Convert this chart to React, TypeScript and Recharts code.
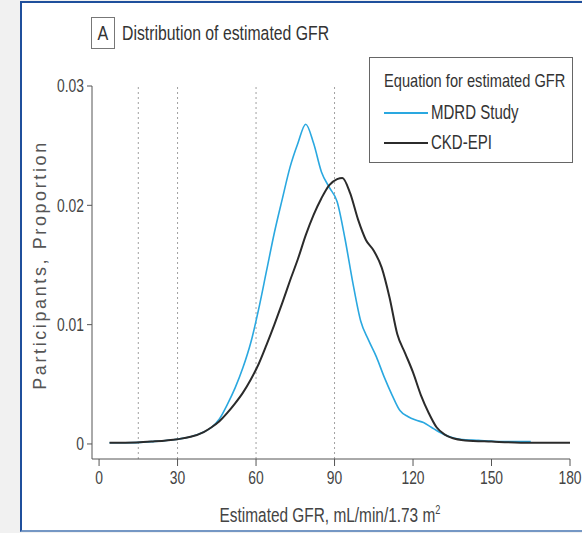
import React from "react";
import { LineChart, Line, XAxis, YAxis, ReferenceLine } from "recharts";

const mdrdX = [4, 10, 20, 30, 35, 40, 43, 46, 49, 52, 55, 58, 61, 64, 67, 70, 73, 76, 79, 82, 85, 88, 91, 94, 97, 100, 103, 106, 109, 112, 115, 118, 121, 124, 127, 130, 134, 138, 145, 155, 165];
const mdrdY = [0.0001, 0.0001, 0.0002, 0.0004, 0.0006, 0.001, 0.0014, 0.0021, 0.0033, 0.0047, 0.0064, 0.0085, 0.0113, 0.0145, 0.0177, 0.0205, 0.0232, 0.0252, 0.0268, 0.0252, 0.0228, 0.0215, 0.0203, 0.0172, 0.0135, 0.0103, 0.0087, 0.0073, 0.0056, 0.0041, 0.0028, 0.0023, 0.002, 0.0018, 0.0014, 0.001, 0.0006, 0.0004, 0.0003, 0.0002, 0.0002];

const ckdX = [4, 10, 20, 30, 35, 40, 43, 46, 49, 52, 55, 58, 61, 64, 67, 70, 73, 76, 79, 82, 85, 88, 91, 93, 96, 99, 102, 105, 108, 111, 114, 117, 120, 123, 126, 129, 132, 135, 140, 150, 165, 180];
const ckdY = [0.0001, 0.0001, 0.0002, 0.0004, 0.0006, 0.001, 0.0014, 0.0019, 0.0026, 0.0034, 0.0043, 0.0054, 0.0067, 0.0083, 0.01, 0.0118, 0.0137, 0.0155, 0.0175, 0.0192, 0.0206, 0.0217, 0.0222, 0.0223, 0.021, 0.0188, 0.0171, 0.0162, 0.0148, 0.0123, 0.0092, 0.0076, 0.006, 0.0041, 0.0026, 0.0014, 0.0008, 0.0005, 0.0003, 0.0002, 0.0001, 0.0001];

const xTicks = [0, 30, 60, 90, 120, 150, 180];
const yTicks = [0, 0.01, 0.02, 0.03];
const refLines = [15, 30, 60, 90];

const seriesNames = ["MDRD Study", "CKD-EPI"];
const seriesColors = ["#2aa8e0", "#2b2b2b"];

const mdrdData = mdrdX.map((x, i) => ({ x, y: mdrdY[i] }));
const ckdData = ckdX.map((x, i) => ({ x, y: ckdY[i] }));

const FONT = "'Liberation Sans', Arial, sans-serif";
const NARROW = 0.77;

const XTick = (props: any) => {
  const { x, y, payload } = props;
  return (
    <g transform={`translate(${x},${y})`}>
      <text transform={`scale(${NARROW},1)`} textAnchor="middle" dy="0.71em" fill="#444" fontSize={18} fontFamily={FONT}>
        {payload.value}
      </text>
    </g>
  );
};

const YTick = (props: any) => {
  const { x, y, payload } = props;
  const v = payload.value as number;
  return (
    <g transform={`translate(${x},${y})`}>
      <text transform={`scale(${NARROW},1)`} textAnchor="end" dy="0.355em" fill="#444" fontSize={18} fontFamily={FONT}>
        {v === 0 ? "0" : v.toFixed(2)}
      </text>
    </g>
  );
};

const narrowStyle = (size: number): React.CSSProperties => ({
  fontFamily: FONT,
  fontSize: size,
  color: "#333",
  whiteSpace: "nowrap",
  transform: `scaleX(${NARROW})`,
  transformOrigin: "left center",
});

export default function App() {
  return (
    <div style={{ position: "absolute", left: 0, top: 0, width: 582, height: 533, background: "#f1f1f1", overflow: "hidden" }}>
      <div
        style={{
          position: "absolute",
          left: 20,
          top: 1,
          width: 620,
          height: 527,
          background: "#ffffff",
          borderLeft: "2px solid #1f4f9c",
          borderTop: "2px solid #1f4f9c",
          borderBottom: "2px solid #7597c4",
        }}
      />
      <div style={{ position: "absolute", left: 0, top: 0 }}>
        <LineChart width={582} height={533} margin={{ top: 86, right: 12, bottom: 34, left: 32 }}>
          <XAxis
            type="number"
            dataKey="x"
            domain={[-2.7, 180]}
            ticks={xTicks}
            allowDataOverflow
            height={40}
            tickSize={7}
            tickMargin={5}
            stroke="#555"
            tick={<XTick />}
          />
          <YAxis
            type="number"
            domain={[-0.00126, 0.03]}
            ticks={yTicks}
            allowDataOverflow
            width={60}
            tickSize={5}
            tickMargin={3}
            stroke="#555"
            tick={<YTick />}
          />
          {refLines.map((x) => (
            <ReferenceLine key={x} x={x} stroke="#a0a0a0" strokeDasharray="2 3" strokeWidth={1} />
          ))}
          <Line
            data={mdrdData}
            dataKey="y"
            type="monotone"
            stroke={seriesColors[0]}
            strokeWidth={1.6}
            dot={false}
            isAnimationActive={false}
          />
          <Line
            data={ckdData}
            dataKey="y"
            type="monotone"
            stroke={seriesColors[1]}
            strokeWidth={2}
            dot={false}
            isAnimationActive={false}
          />
        </LineChart>
      </div>

      {/* Panel title */}
      <div
        style={{
          position: "absolute",
          left: 91,
          top: 17,
          width: 22,
          height: 30,
          border: "1px solid #777",
          fontFamily: FONT,
          fontSize: 21,
          color: "#333",
          textAlign: "center",
          lineHeight: "30px",
        }}
      >
        <span style={{ display: "inline-block", transform: `scaleX(${NARROW})` }}>A</span>
      </div>
      <div style={{ position: "absolute", left: 122, top: 19, lineHeight: "28px", ...narrowStyle(20.5) }}>
        Distribution of estimated GFR
      </div>

      {/* Legend */}
      <div
        style={{
          position: "absolute",
          left: 369,
          top: 57,
          width: 202,
          height: 104,
          border: "1px solid #666",
          background: "#fff",
        }}
      >
        <div style={{ position: "absolute", left: 14, top: 12, ...narrowStyle(19) }}>Equation for estimated GFR</div>
        {seriesNames.map((name, i) => (
          <div key={name} style={{ position: "absolute", left: 14, top: 43 + i * 30, display: "flex", alignItems: "center", whiteSpace: "nowrap" }}>
            <div style={{ width: 44, height: 2, background: seriesColors[i], marginRight: 3 }} />
            <span style={{ display: "inline-block", ...narrowStyle(19.5) }}>{name}</span>
          </div>
        ))}
      </div>

      {/* Y axis title */}
      <div
        style={{
          position: "absolute",
          left: 40,
          top: 265,
          transform: "translate(-50%, -50%) rotate(-90deg)",
          fontFamily: FONT,
          fontSize: 18,
          letterSpacing: 2.6,
          color: "#555",
          whiteSpace: "nowrap",
        }}
      >
        Participants, Proportion
      </div>

      {/* X axis title */}
      <div
        style={{
          position: "absolute",
          left: 330,
          top: 515,
          transform: `translate(-50%, -50%) scaleX(${NARROW})`,
          fontFamily: FONT,
          fontSize: 20,
          color: "#444",
          whiteSpace: "nowrap",
        }}
      >
        Estimated GFR, mL/min/1.73 m<sup style={{ fontSize: 12 }}>2</sup>
      </div>
    </div>
  );
}
